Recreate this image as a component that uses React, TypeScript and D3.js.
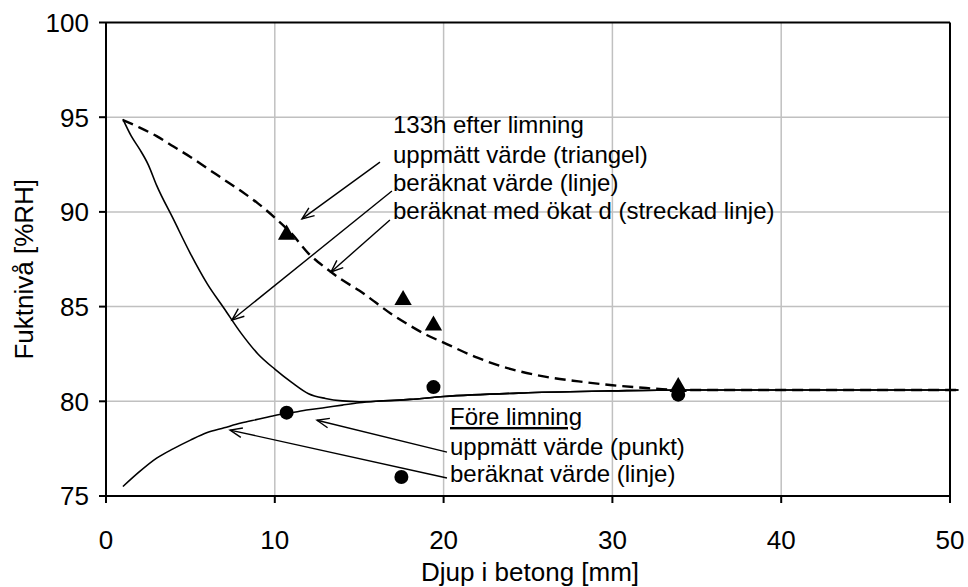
import React from "react";
import * as d3 from "d3";

// ---- data ----
const xTicks = [0, 10, 20, 30, 40, 50];
const yTicks = [75, 80, 85, 90, 95, 100];

// calculated value 133h after gluing (solid)
const calc133X = [1, 1.5, 2, 2.5, 3, 4, 5, 6, 7, 8, 9, 10, 11, 12, 13, 14, 15, 16, 18, 20, 25, 30, 34, 40, 50.5];
const calc133Y = [94.9, 94.0, 93.3, 92.5, 91.4, 89.6, 87.8, 86.2, 84.9, 83.6, 82.5, 81.7, 81.0, 80.4, 80.15, 80.02, 79.98, 80.0, 80.1, 80.25, 80.45, 80.55, 80.6, 80.6, 80.6];

// calculated value before gluing (solid)
const calcBeforeX = [1, 2, 3, 4, 5, 6, 7, 8, 9, 10, 11, 12, 13, 14, 15, 16, 18, 20, 25, 30, 34, 40, 50.5];
const calcBeforeY = [75.5, 76.3, 77.0, 77.5, 77.95, 78.35, 78.6, 78.85, 79.05, 79.25, 79.4, 79.55, 79.67, 79.8, 79.92, 80.0, 80.1, 80.25, 80.45, 80.55, 80.6, 80.6, 80.6];

// calculated with increased d (dashed)
const calcIncX = [1, 2, 3, 4, 5, 6, 7, 8, 9, 10, 11, 12, 13, 14, 15, 16, 17, 18, 19, 20, 22, 24, 26, 28, 30, 32, 34, 40, 50.5];
const calcIncY = [94.85, 94.45, 94.0, 93.45, 92.9, 92.3, 91.7, 91.1, 90.45, 89.7, 88.85, 87.8, 87.05, 86.4, 85.85, 85.2, 84.55, 84.0, 83.5, 83.1, 82.3, 81.7, 81.3, 81.05, 80.85, 80.7, 80.6, 80.6, 80.6];

// measured 133h (triangles)
const measTriX = [10.7, 17.6, 19.4, 33.9];
const measTriY = [88.8, 85.35, 84.0, 80.75];

// measured before gluing (dots)
const measDotX = [10.7, 17.5, 19.4, 33.9];
const measDotY = [79.4, 76.0, 80.75, 80.35];

// annotation texts
const upperLabels = [
  "133h efter limning",
  "uppmätt värde (triangel)",
  "beräknat värde (linje)",
  "beräknat med ökat d (streckad linje)",
];
const upperLabelY = [94.16, 92.58, 91.1, 89.62];
const upperLabelX = 17.0;

const lowerLabels = ["Före limning", "uppmätt värde (punkt)", "beräknat värde (linje)"];
const lowerLabelY = [78.75, 77.17, 75.74];
const lowerLabelX = 20.38;

// arrows: [fromX, fromY, toX, toY]
const arrows: [number, number, number, number][] = [
  [16.23, 92.63, 11.61, 89.63],
  [16.94, 91.1, 7.46, 84.29],
  [16.82, 89.57, 13.33, 86.83],
  [20.2, 77.32, 12.5, 79.0],
  [20.2, 75.95, 7.35, 78.48],
];

const W = 968;
const H = 587;
const left = 106;
const right = 950;
const top = 22.5;
const bottom = 496;
const FONT = "'Liberation Sans', Arial, sans-serif";

export default function App() {
  const x = d3.scaleLinear().domain([0, 50]).range([left, right]);
  const y = d3.scaleLinear().domain([75, 100]).range([bottom, top]);

  const line = d3
    .line<[number, number]>()
    .x((d) => x(d[0]))
    .y((d) => y(d[1]))
    .curve(d3.curveMonotoneX);

  const zip = (a: number[], b: number[]) => a.map((v, i) => [v, b[i]] as [number, number]);

  const arrowHead = (x1: number, y1: number, x2: number, y2: number) => {
    const ang = Math.atan2(y2 - y1, x2 - x1);
    const len = 13;
    const spread = 0.38;
    const p1 = [x2 - len * Math.cos(ang - spread), y2 - len * Math.sin(ang - spread)];
    const p2 = [x2 - len * Math.cos(ang + spread), y2 - len * Math.sin(ang + spread)];
    return `M${p1[0]},${p1[1]}L${x2},${y2}L${p2[0]},${p2[1]}`;
  };

  const triPath = d3.symbol().type(d3.symbolTriangle).size(130)() as string;

  return (
    <svg
      width={W}
      height={H}
      style={{ position: "absolute", left: 0, top: 0, background: "#fff" }}
      fontFamily={FONT}
    >
      <rect x={0} y={0} width={W} height={H} fill="#fff" />
      {/* grid */}
      {yTicks
        .filter((t) => t !== 75 && t !== 100)
        .map((t) => (
          <line key={"gy" + t} x1={left} x2={right} y1={y(t)} y2={y(t)} stroke="#c0c0c0" strokeWidth={1.5} />
        ))}
      {xTicks
        .filter((t) => t !== 0 && t !== 50)
        .map((t) => (
          <line key={"gx" + t} x1={x(t)} x2={x(t)} y1={top} y2={bottom} stroke="#c0c0c0" strokeWidth={1.5} />
        ))}
      {/* frame */}
      <line x1={left} x2={right} y1={top} y2={top} stroke="#000" strokeWidth={2} />
      <line x1={right} x2={right} y1={top} y2={bottom} stroke="#000" strokeWidth={2} />
      <line x1={left} x2={right} y1={bottom} y2={bottom} stroke="#000" strokeWidth={2} />
      <line x1={left} x2={left} y1={top} y2={bottom} stroke="#000" strokeWidth={2} />
      {/* ticks */}
      {yTicks.map((t) => (
        <g key={"yt" + t}>
          <line x1={left - 7} x2={left} y1={y(t)} y2={y(t)} stroke="#000" strokeWidth={2} />
          <text x={left - 17} y={y(t)} dy="0.36em" textAnchor="end" fontSize={26}>
            {t}
          </text>
        </g>
      ))}
      {xTicks.map((t) => (
        <g key={"xt" + t}>
          <line x1={x(t)} x2={x(t)} y1={bottom} y2={bottom + 7} stroke="#000" strokeWidth={2} />
          <text x={x(t)} y={549} textAnchor="middle" fontSize={26}>
            {t}
          </text>
        </g>
      ))}
      {/* axis titles */}
      <text x={(left + right) / 2 + 2} y={581} textAnchor="middle" fontSize={26}>
        Djup i betong [mm]
      </text>
      <text
        transform={`translate(33,${(top + bottom) / 2 + 10}) rotate(-90)`}
        textAnchor="middle"
        fontSize={26}
      >
        Fuktnivå [%RH]
      </text>

      {/* curves */}
      <path d={line(zip(calc133X, calc133Y)) || ""} fill="none" stroke="#000" strokeWidth={1.6} />
      <path d={line(zip(calcBeforeX, calcBeforeY)) || ""} fill="none" stroke="#000" strokeWidth={1.6} />
      <path
        d={line(zip(calcIncX, calcIncY)) || ""}
        fill="none"
        stroke="#000"
        strokeWidth={2.4}
        strokeDasharray="11,6"
      />

      {/* markers */}
      {measTriX.map((v, i) => (
        <path key={"tri" + i} d={triPath} transform={`translate(${x(v)},${y(measTriY[i])})`} fill="#000" />
      ))}
      {measDotX.map((v, i) => (
        <circle key={"dot" + i} cx={x(v)} cy={y(measDotY[i])} r={7} fill="#000" />
      ))}

      {/* arrows */}
      {arrows.map(([a, b, c, d], i) => {
        const x1 = x(a), y1 = y(b), x2 = x(c), y2 = y(d);
        return (
          <g key={"ar" + i} stroke="#000" strokeWidth={1.4} fill="none">
            <line x1={x1} y1={y1} x2={x2} y2={y2} />
            <path d={arrowHead(x1, y1, x2, y2)} />
          </g>
        );
      })}

      {/* annotations */}
      {upperLabels.map((s, i) => (
        <text key={"ul" + i} x={x(upperLabelX)} y={y(upperLabelY[i])} fontSize={24}>
          {s}
        </text>
      ))}
      {lowerLabels.map((s, i) => (
        <text
          key={"ll" + i}
          x={x(lowerLabelX)}
          y={y(lowerLabelY[i])}
          fontSize={24}
          textDecoration={i === 0 ? "underline" : undefined}
        >
          {s}
        </text>
      ))}
    </svg>
  );
}
